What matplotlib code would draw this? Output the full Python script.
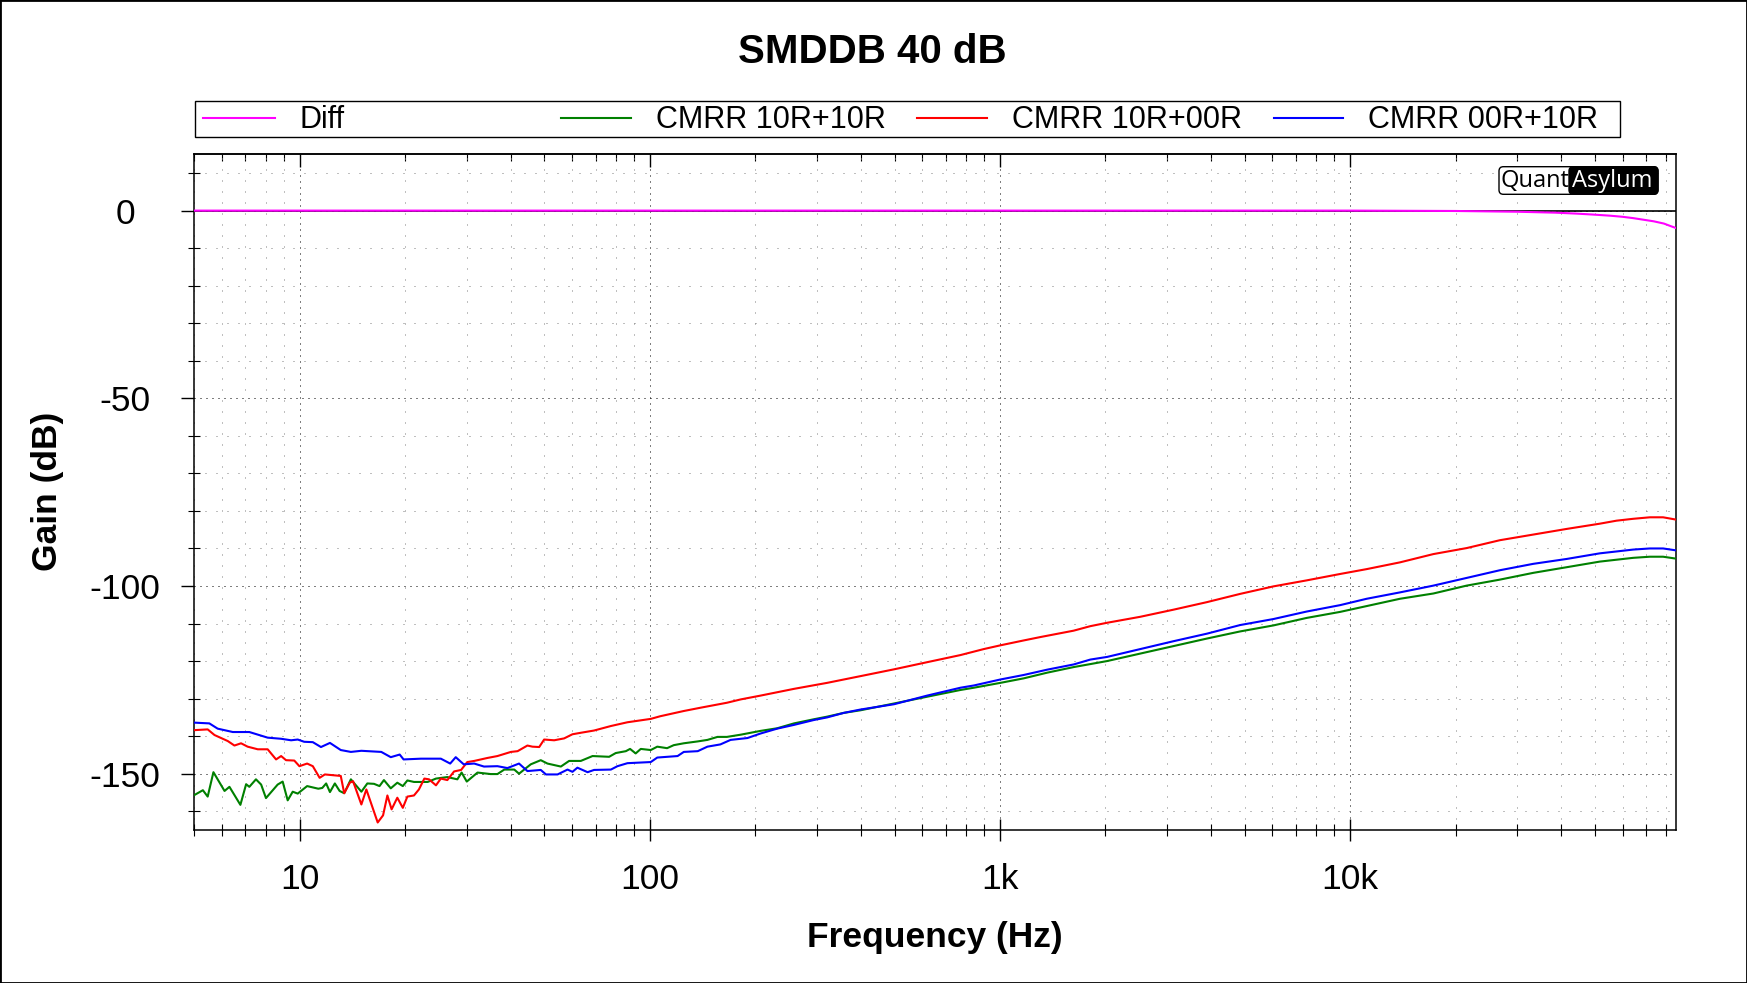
import numpy as np
import matplotlib
matplotlib.use("Agg")
from matplotlib import pyplot as plt
from matplotlib import ticker
from matplotlib.lines import Line2D
from matplotlib.patches import Rectangle, FancyBboxPatch

plt.rcParams['font.family'] = ['Liberation Sans', 'DejaVu Sans']
plt.rcParams['axes.unicode_minus'] = False

# 数据 (Hz, dB)
diff_freq = [5, 10000, 20000, 30000, 38600, 44300, 49300, 55200, 60000, 64300, 68500, 73600, 78700, 82400, 85000]
diff_db = [0, 0, -0.1, -0.3, -0.55, -0.8, -1.05, -1.35, -1.65, -2.0, -2.4, -2.85, -3.45, -4.15, -4.6]

green_freq = [5.0, 5.29, 5.46, 5.67, 6.10, 6.30, 6.77, 7.03, 7.18, 7.50, 7.76, 8.01, 8.65, 8.94, 9.24, 9.55,
              9.87, 10.5, 11.3, 11.6, 11.9, 12.2, 12.6, 13.0, 13.4, 14.0, 15.0, 15.6, 16.3, 16.9, 17.4, 18.2,
              19.0, 19.7, 20.3, 21.2, 23.2, 24.5, 26.4, 28.2, 29.0, 30.0, 32.2, 35.1, 36.7, 38.4, 41.0, 42.3,
              45.7, 48.8, 51.0, 55.7, 58.8, 63.5, 68.6, 76.5, 79.9, 85.4, 87.8, 91.1, 94.2, 100.6, 105, 112,
              117, 125, 137, 146, 156, 166, 182, 207, 231, 258, 294, 321, 358, 400, 498, 619, 771, 842, 1003,
              1169, 1362, 1623, 2021, 2516, 3132, 3898, 4852, 6039, 7516, 9359, 13880, 17280, 21510, 26770,
              33330, 41500, 51640, 57630, 64300, 71750, 78300, 85100]
green_db = [-155.7, -154.4, -156.1, -149.6, -154.6, -153.5, -158.3, -152.8, -153.5, -151.5, -152.9, -156.5,
            -152.9, -152.1, -157.1, -154.8, -155.3, -153.3, -154.0, -153.8, -152.6, -154.9, -152.6, -154.6,
            -155.2, -151.5, -154.8, -152.6, -152.7, -153.3, -151.7, -153.9, -152.4, -153.3, -151.8, -152.2,
            -152.2, -151.3, -150.9, -151.5, -149.7, -152.1, -149.7, -150.1, -150.1, -148.9, -148.9, -150.0,
            -147.5, -146.4, -147.3, -148.1, -146.6, -146.6, -145.3, -145.5, -144.5, -144.0, -143.4, -144.6,
            -143.4, -143.7, -142.8, -143.2, -142.4, -141.9, -141.4, -141.0, -140.2, -140.2, -139.6, -138.6,
            -137.9, -136.6, -135.5, -134.8, -133.8, -133.1, -131.3, -129.5, -127.7, -127.1, -125.8, -124.6,
            -123.1, -121.6, -120.0, -118.0, -116.0, -114.0, -112.1, -110.5, -108.5, -106.9, -103.4, -102.0,
            -99.9, -98.3, -96.5, -95.0, -93.5, -93.0, -92.5, -92.2, -92.2, -92.7]

red_freq = [5.0, 5.46, 5.71, 6.23, 6.51, 6.80, 7.10, 7.59, 8.10, 8.56, 8.85, 9.14, 9.65, 9.98, 10.5, 10.9,
            11.4, 11.8, 13.1, 13.4, 13.9, 14.2, 15.0, 15.5, 16.7, 17.3, 17.8, 18.3, 19.0, 19.7, 20.3, 21.2,
            21.9, 22.7, 23.4, 24.5, 25.3, 26.4, 27.6, 28.9, 30.1, 31.5, 34.4, 36.7, 40.1, 41.9, 44.7, 46.2,
            48.3, 49.9, 53.3, 56.9, 60.1, 63.5, 69.3, 77.4, 86.3, 100.6, 107, 125, 140, 166, 182, 207, 258,
            321, 400, 498, 619, 771, 899, 1003, 1169, 1304, 1623, 1811, 2021, 2516, 3132, 3898, 4852, 6039,
            7516, 9359, 11150, 13880, 17280, 21510, 26770, 33330, 41500, 51640, 57630, 64300, 71750, 78300,
            85100]
red_db = [-138.4, -138.2, -139.7, -141.3, -142.5, -141.9, -142.8, -143.5, -143.5, -146.2, -145.3, -146.4,
          -146.5, -148.0, -147.3, -148.0, -151.1, -150.2, -150.6, -155.2, -152.4, -152.0, -158.2, -154.2,
          -163.0, -161.1, -155.8, -159.5, -156.4, -159.1, -156.1, -155.8, -154.2, -151.3, -151.5, -153.1,
          -151.3, -151.7, -149.4, -149.0, -146.9, -146.6, -145.8, -145.3, -144.2, -144.0, -142.5, -142.8,
          -142.9, -140.9, -141.1, -140.6, -139.5, -139.1, -138.5, -137.3, -136.3, -135.4, -134.7, -133.3,
          -132.4, -131.1, -130.2, -129.2, -127.4, -125.8, -124.0, -122.2, -120.3, -118.4, -116.8, -115.8,
          -114.5, -113.6, -111.9, -110.7, -109.8, -108.2, -106.3, -104.3, -102.1, -100.1, -98.5, -96.8,
          -95.5, -93.7, -91.5, -89.9, -87.8, -86.3, -84.8, -83.4, -82.6, -82.1, -81.7, -81.7, -82.3]

blue_freq = [5.0, 5.52, 5.83, 6.44, 7.18, 8.10, 8.85, 9.45, 9.87, 10.3, 10.9, 11.5, 12.2, 13.1, 14.0, 15.0,
             17.1, 18.2, 19.3, 19.8, 22.2, 25.3, 26.9, 27.9, 29.4, 31.5, 33.6, 36.7, 39.2, 42.3, 44.7, 48.8,
             50.5, 54.5, 58.2, 60.1, 62.1, 66.4, 69.3, 77.4, 80.8, 86.3, 100.6, 105, 120, 125, 137, 146, 159,
             170, 190, 207, 231, 258, 294, 321, 358, 400, 498, 619, 771, 842, 1003, 1169, 1362, 1623, 1811,
             2021, 2516, 3132, 3898, 4852, 6039, 7516, 9359, 11150, 13880, 17280, 21510, 26770, 33330, 41500,
             51640, 57630, 64300, 71750, 78300, 85100]
blue_db = [-136.4, -136.6, -138.0, -138.9, -138.9, -140.4, -140.7, -141.1, -140.9, -141.5, -141.6, -142.9,
           -141.8, -143.7, -144.2, -143.9, -144.2, -145.6, -144.9, -146.2, -146.0, -146.0, -147.3, -145.6,
           -147.5, -147.3, -148.1, -148.0, -148.5, -147.3, -149.3, -149.0, -150.2, -150.2, -148.9, -149.5,
           -148.4, -149.6, -149.0, -148.9, -148.0, -147.2, -146.9, -145.7, -145.3, -144.2, -144.0, -142.8,
           -142.2, -141.0, -140.5, -139.3, -138.0, -137.0, -135.7, -135.0, -133.8, -132.9, -131.5, -129.2,
           -127.1, -126.5, -124.9, -123.7, -122.3, -120.9, -119.6, -118.9, -116.8, -114.7, -112.7, -110.4,
           -108.8, -106.8, -105.1, -103.4, -101.7, -99.9, -97.85, -95.8, -94.1, -92.8, -91.3, -90.8, -90.3,
           -90.0, -90.0, -90.5]

labels = ["Diff", "CMRR 10R+10R", "CMRR 10R+00R", "CMRR 00R+10R"]
colors = ["#ff00ff", "#008000", "#ff0000", "#0000ff"]
xtick_pos = [10, 100, 1000, 10000]
xtick_labels = ["10", "100", "1k", "10k"]
ytick_pos = [-150, -100, -50, 0]

W, H = 1747, 983
fig = plt.figure(figsize=(W / 100, H / 100), dpi=100)
ax = fig.add_axes([194.3 / W, 1 - 830 / H, 1481.3 / W, 675.7 / H])

# 曲线
series = [(diff_freq, diff_db), (green_freq, green_db), (red_freq, red_db), (blue_freq, blue_db)]
for (f, g), c in zip(series, colors):
    ax.plot(f, g, color=c, lw=1.5, zorder=5)

ax.axhline(0, color='black', lw=1.2, zorder=3)

ax.set_xscale('log')
ax.set_xlim(5, 85000)
ax.set_ylim(-165, 15)

ax.xaxis.set_major_locator(ticker.FixedLocator(xtick_pos))
ax.xaxis.set_major_formatter(ticker.FixedFormatter(xtick_labels))
ax.xaxis.set_minor_locator(ticker.LogLocator(base=10, subs=np.arange(2, 10), numticks=30))
ax.xaxis.set_minor_formatter(ticker.NullFormatter())
ax.yaxis.set_major_locator(ticker.FixedLocator(ytick_pos))
ax.yaxis.set_minor_locator(ticker.MultipleLocator(10))

# 网格
ax.set_axisbelow(True)
ax.grid(which='major', color='black', lw=0.72, ls=(0, (1, 5)))
ax.grid(which='minor', color='#808080', lw=0.72, ls=(0, (1, 10)))

for s in ax.spines.values():
    s.set_linewidth(1.1)

ax.tick_params(axis='x', which='major', direction='inout', length=16, width=1, labelsize=25.5, pad=16, top=False)
ax.tick_params(axis='x', which='minor', direction='inout', length=8.6, width=0.8, top=False)
ax.tick_params(axis='y', which='major', direction='out', length=9.4, width=1, labelsize=25.5, pad=40.5, right=False)
ax.tick_params(axis='y', which='minor', direction='inout', length=9.1, width=0.8, right=False)
plt.setp(ax.get_yticklabels(), ha='center')

# 顶部刻度
secax = ax.secondary_xaxis('top')
secax.xaxis.set_major_locator(ticker.FixedLocator(xtick_pos))
secax.xaxis.set_minor_locator(ticker.LogLocator(base=10, subs=np.arange(2, 10), numticks=30))
secax.xaxis.set_minor_formatter(ticker.NullFormatter())
secax.tick_params(which='major', direction='in', length=9.4, width=1, labeltop=False)
secax.tick_params(which='minor', direction='in', length=4.8, width=0.8)
secax.spines['top'].set_linewidth(1.1)

# 标题和坐标轴标签
fig.text(872.5 / W, 1 - 52 / H, "SMDDB 40 dB", fontsize=29, fontweight='bold', ha='center', va='center')
fig.text(934.8 / W, 1 - 937.5 / H, "Frequency (Hz)", fontsize=25.5, fontweight='bold', ha='center', va='center')
fig.text(48 / W, 1 - 491 / H, "Gain (dB)", fontsize=25.5, fontweight='bold', ha='center', va='center',
         rotation=90)

# 图例
fig.add_artist(Rectangle((195 / W, 1 - 137 / H), (1620 - 195) / W, 36 / H, transform=fig.transFigure,
                         fill=False, edgecolor='black', lw=1))
line_x = [(203, 275), (561, 631), (917, 987), (1274, 1343)]
text_x = [300, 656, 1012, 1368]
for (x0, x1), tx, lab, c in zip(line_x, text_x, labels, colors):
    fig.add_artist(Line2D([x0 / W, x1 / W], [1 - 118 / H] * 2, color=c, lw=1.5, transform=fig.transFigure))
    fig.text(tx / W, 1 - 120.5 / H, lab, fontsize=22, ha='left', va='center')

# QuantAsylum 标志
fig.add_artist(FancyBboxPatch((1499 / W, 1 - 194.3 / H), 159 / W, 27.6 / H,
                              boxstyle='round,pad=0,rounding_size=0.0025', mutation_aspect=W / H,
                              transform=fig.transFigure, facecolor='white', edgecolor='black', lw=1))
fig.add_artist(FancyBboxPatch((1569 / W, 1 - 194.3 / H), 89 / W, 27.6 / H,
                              boxstyle='round,pad=0,rounding_size=0.0025', mutation_aspect=W / H,
                              transform=fig.transFigure, facecolor='black', edgecolor='black', lw=1))
fig.text(1534.5 / W, 1 - 187.3 / H, "Quant", fontsize=17, ha='center', va='baseline',
         family=['Open Sans', 'DejaVu Sans'])
fig.text(1612.5 / W, 1 - 187.3 / H, "Asylum", fontsize=17, ha='center', va='baseline', color='white',
         family=['Open Sans', 'DejaVu Sans'])

# 外框
fig.add_artist(Rectangle((0, 0), 1, 1, transform=fig.transFigure, fill=False, edgecolor='black', lw=2))

fig.savefig("out.png", dpi=100)
